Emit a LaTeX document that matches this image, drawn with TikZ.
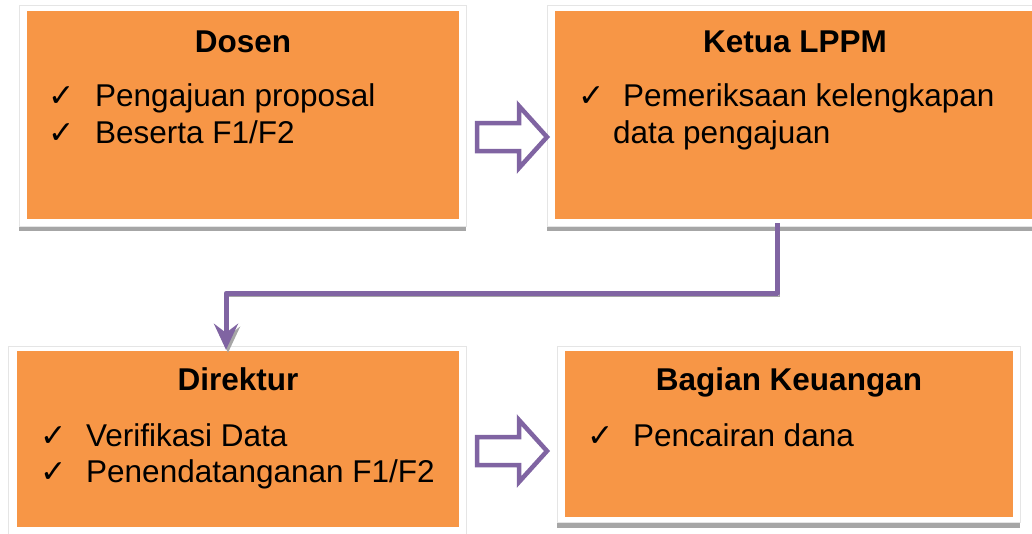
\documentclass[tikz,border=0pt]{standalone}
\usepackage{fontspec}
\setmainfont{Liberation Sans}
\newfontfamily\symfont{DejaVu Sans}
\usepackage{tikz}
\usetikzlibrary{arrows.meta,positioning}
\definecolor{boxorange}{HTML}{F79646}
\definecolor{flowpurple}{HTML}{8064A2}
\definecolor{shadowgray}{HTML}{A6A6A6}
\newcommand{\tick}{{\symfont ✓}}

\begin{document}
\begin{tikzpicture}[
    x=1pt, y=-1pt,
    >=Stealth,
    font=\fontsize{31.5}{36.5}\selectfont,
    panel/.style={fill=boxorange, inner sep=0pt},
    frame/.style={fill=white, draw=black!10, line width=0.6pt},
    title/.style={anchor=base, font=\fontsize{31.5}{36.5}\selectfont\bfseries},
    item/.style={anchor=base west, inner sep=0pt},
    blockarrow/.pic={
      \draw[flowpurple, fill=white, line width=4.5pt, line join=miter]
        (-35,-14) -- (7,-14) -- (7,-31) -- (35,0) -- (7,31) -- (7,14) -- (-35,14) -- cycle;
    }
  ]
    \useasboundingbox (0,0) rectangle (1032,533);
    % white frames with grey shadow
    \fill[shadowgray] (19,226) rectangle (466,231);
    \filldraw[frame] (19,5) rectangle (466,226);
    \fill[shadowgray] (547,226) rectangle (1045,231);
    \filldraw[frame] (547,5) rectangle (1045,226);
    \filldraw[frame] (8,346) rectangle (466,545);
    \fill[shadowgray] (557,522) rectangle (1020,528);
    \filldraw[frame] (557,346) rectangle (1020,522);

    \node[panel, minimum width=432pt, minimum height=208pt] (dosen) at (243,115) {};
    \node[panel, minimum width=480pt, minimum height=208pt] (ketua) at (795,115) {};
    \node[panel, minimum width=442pt, minimum height=176pt] (direktur) at (238,439) {};
    \node[panel, minimum width=448pt, minimum height=166pt] (keuangan) at (789,434) {};

    \node[title] (dosentitle) at (243,52) {Dosen};
    \node[item] (dosenck1) at (48,106) {\tick};
    \node[item] (dosen1) at (95,106) {Pengajuan proposal};
    \node[item] (dosenck2) at (48,143) {\tick};
    \node[item] (dosen2) at (95,143) {Beserta F1/F2};

    \node[title] (ketuatitle) at (795,52) {Ketua LPPM};
    \node[item] (ketuack1) at (578,106) {\tick};
    \node[item] (ketua1) at (623,106) {Pemeriksaan kelengkapan};
    \node[item] (ketua2) at (613,143) {data pengajuan};

    \node[title] (direkturtitle) at (238,390) {Direktur};
    \node[item] (direkturck1) at (40,446) {\tick};
    \node[item] (direktur1) at (86,446) {Verifikasi Data};
    \node[item] (direkturck2) at (40,482) {\tick};
    \node[item] (direktur2) at (86,482) {Penendatanganan F1/F2};

    \node[title] (keuangantitle) at (789,390) {Bagian Keuangan};
    \node[item] (keuanganck1) at (587,446) {\tick};
    \node[item] (keuangan1) at (633,446) {Pencairan dana};

    % block arrows between the boxes
    \pic (arrowa) at (512,137) {blockarrow};
    \pic (arrowb) at (512,451) {blockarrow};

    \coordinate (turnstart) at ([xshift=-18pt,yshift=-4pt]ketua.south);
    \draw[-{Stealth[length=26pt, width=24pt, inset=9pt]}, flowpurple, line width=5pt, line join=round,
      preaction={draw=shadowgray, transform canvas={shift={(2pt,-3pt)}}}]
      (turnstart) -- ++(0,70) -| ([xshift=-12pt,yshift=1pt]direktur.north);
\end{tikzpicture}
\end{document}
